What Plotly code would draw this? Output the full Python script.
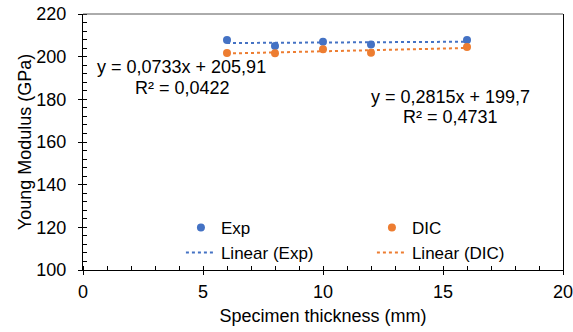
import numpy as np
import plotly.graph_objects as go

thickness = [6, 8, 10, 12, 16]
exp_vals = [207.8, 205.0, 207.0, 205.7, 207.8]
dic_vals = [201.7, 201.6, 203.5, 201.8, 204.5]
exp_eq = ["y = 0,0733x + 205,91", "R² = 0,0422"]
dic_eq = ["y = 0,2815x + 199,7", "R² = 0,4731"]

BLUE = "#4472C4"
ORANGE = "#ED7D31"
FONT = "Liberation Sans, Arial, sans-serif"
FS = 18

x = np.array(thickness, dtype=float)
fit_e = np.polyfit(x, exp_vals, 1)
fit_d = np.polyfit(x, dic_vals, 1)
xl = np.array([x.min(), x.max()])

fig = go.Figure()
fig.add_trace(go.Scatter(x=thickness, y=exp_vals, mode="markers", name="Exp",
                         marker=dict(color=BLUE, size=8)))
fig.add_trace(go.Scatter(x=thickness, y=dic_vals, mode="markers", name="DIC",
                         marker=dict(color=ORANGE, size=8)))
fig.add_trace(go.Scatter(x=xl, y=np.polyval(fit_e, xl), mode="lines", name="Linear (Exp)",
                         line=dict(color=BLUE, width=2, dash="dot")))
fig.add_trace(go.Scatter(x=xl, y=np.polyval(fit_d, xl), mode="lines", name="Linear (DIC)",
                         line=dict(color=ORANGE, width=2, dash="dot")))

for txt, xx, yy in [(exp_eq[0], 4.10, 195.0), (exp_eq[1], 4.14, 185.2),
                    (dic_eq[0], 15.30, 181.3), (dic_eq[1], 15.30, 171.6)]:
    fig.add_annotation(x=xx, y=yy, xref="x", yref="y", text=txt, showarrow=False,
                       font=dict(size=FS, color="black", family=FONT))

# top border
fig.add_shape(type="line", xref="paper", yref="paper", x0=0, x1=1, y0=1, y1=1,
              line=dict(color="#595959", width=1))

fig.update_layout(
    width=573, height=332,
    margin=dict(l=83, r=10, t=14, b=62),
    paper_bgcolor="white", plot_bgcolor="white",
    font=dict(family=FONT, size=FS, color="black"),
    showlegend=True,
    legend=dict(orientation="h", x=0.204, xanchor="left", y=0.235, yanchor="top",
                entrywidth=146, entrywidthmode="pixels", bgcolor="rgba(0,0,0,0)",
                font=dict(size=17, family=FONT, color="black"), tracegroupgap=0,
                itemwidth=30),
    xaxis=dict(range=[0, 20], tickvals=[0, 5, 10, 15, 20], showgrid=False, zeroline=False,
               showline=True, linecolor="black", linewidth=1, mirror=False, automargin=False,
               ticks="outside", ticklen=4, tickcolor="black", ticklabeloverflow="allow",
               minor=dict(dtick=1, ticks="inside", ticklen=4, tickcolor="black", showgrid=False),
               tickfont=dict(size=FS), ticklabelstandoff=1,
               title=dict(text="Specimen thickness (mm)", font=dict(size=FS), standoff=8)),
    yaxis=dict(range=[100, 220], tickvals=[100, 120, 140, 160, 180, 200, 220], showgrid=False,
               zeroline=False, showline=True, linecolor="black", linewidth=1, mirror=True,
               automargin=False, ticklabeloverflow="allow",
               ticks="outside", ticklen=4, tickcolor="black",
               minor=dict(dtick=4, ticks="inside", ticklen=4, tickcolor="black", showgrid=False),
               tickfont=dict(size=FS), ticklabelstandoff=8,
               title=dict(text="Young Modulus (GPa)", font=dict(size=FS), standoff=0)),
)

fig.write_html("out.html", config={"displayModeBar": False},
               post_script="document.body.style.margin='0';")
